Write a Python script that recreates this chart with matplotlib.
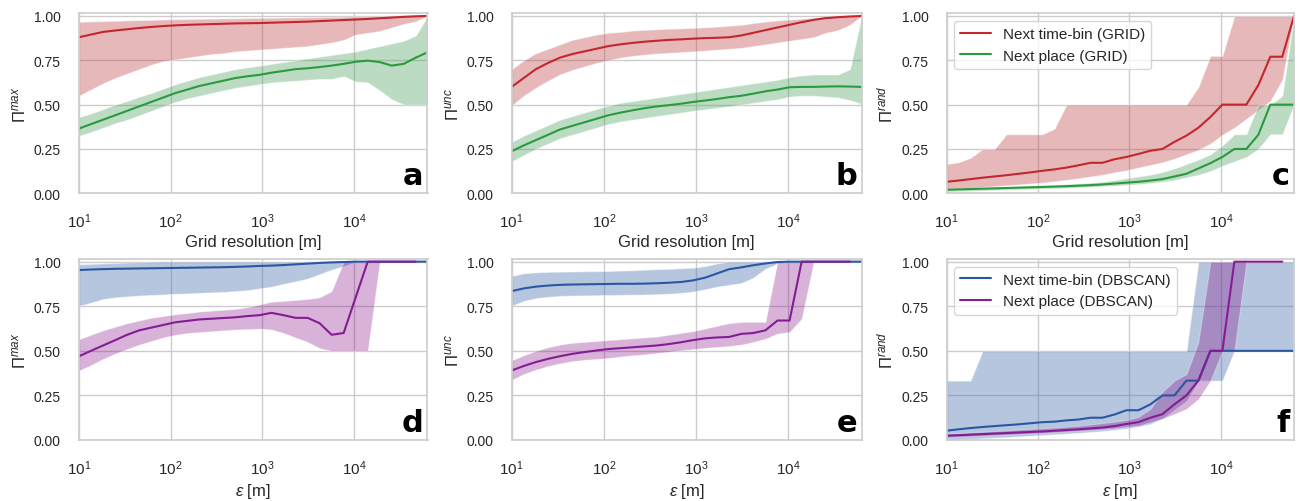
import matplotlib
matplotlib.use("Agg")
import matplotlib.pyplot as plt
import seaborn as sns

sns.set_style("whitegrid")
plt.rcParams['font.family'] = ['Liberation Sans', 'DejaVu Sans']
plt.rcParams['mathtext.fontset'] = 'custom'
plt.rcParams['mathtext.rm'] = 'Liberation Sans'
plt.rcParams['mathtext.it'] = 'Liberation Sans:italic'
plt.rcParams['mathtext.bf'] = 'Liberation Sans:bold'

# x values (grid resolution / epsilon, metres)
x_vals = [10, 13.5, 18.3, 24.8, 33.5, 45.3, 61.3, 82.9, 112, 152, 205, 278, 376,
          508, 687, 929, 1256, 1699, 2298, 3107, 4202, 5683, 7686, 10394,
          14057, 19011, 25710, 34771, 47024, 63096]

# --- GRID, next time-bin (red) ---
tb_max = [0.88, 0.895, 0.91, 0.918, 0.925, 0.932, 0.938, 0.943, 0.947, 0.95, 0.952, 0.954, 0.956, 0.958, 0.959,
          0.96, 0.962, 0.964, 0.966, 0.968, 0.971, 0.974, 0.977, 0.98, 0.983, 0.987, 0.991, 0.995, 0.998, 1.0]
tb_max_hi = [0.967, 0.969, 0.971, 0.973, 0.975, 0.977, 0.978, 0.98, 0.982, 0.983, 0.984, 0.985, 0.986, 0.987, 0.988,
             0.989, 0.99, 0.991, 0.992, 0.993, 0.994, 0.995, 0.996, 0.997, 0.998, 0.999, 1.0, 1.0, 1.0, 1.0]
tb_max_lo = [0.55, 0.585, 0.62, 0.65, 0.675, 0.70, 0.725, 0.745, 0.755, 0.765, 0.775, 0.785, 0.79, 0.80, 0.805,
             0.81, 0.815, 0.82, 0.825, 0.83, 0.84, 0.85, 0.865, 0.895, 0.905, 0.915, 0.935, 0.955, 0.97, 1.0]

tb_unc = [0.60, 0.65, 0.70, 0.735, 0.765, 0.785, 0.80, 0.815, 0.83, 0.84, 0.848, 0.855, 0.86, 0.865, 0.868,
          0.872, 0.875, 0.877, 0.88, 0.89, 0.905, 0.92, 0.935, 0.95, 0.965, 0.978, 0.988, 0.993, 0.997, 1.0]
tb_unc_hi = [0.70, 0.75, 0.79, 0.815, 0.84, 0.865, 0.88, 0.895, 0.905, 0.91, 0.918, 0.922, 0.925, 0.928, 0.93,
             0.933, 0.936, 0.94, 0.945, 0.95, 0.96, 0.968, 0.975, 0.98, 0.985, 0.99, 0.995, 1.0, 1.0, 1.0]
tb_unc_lo = [0.495, 0.55, 0.595, 0.635, 0.67, 0.695, 0.715, 0.735, 0.75, 0.765, 0.775, 0.782, 0.788, 0.792, 0.796,
             0.80, 0.805, 0.81, 0.815, 0.82, 0.83, 0.84, 0.85, 0.86, 0.87, 0.88, 0.905, 0.92, 0.95, 1.0]

tb_rand = [0.065, 0.072, 0.08, 0.088, 0.095, 0.102, 0.11, 0.118, 0.127, 0.135, 0.145, 0.158, 0.172, 0.172, 0.192,
           0.205, 0.222, 0.24, 0.25, 0.29, 0.325, 0.37, 0.43, 0.50, 0.50, 0.50, 0.61, 0.77, 0.77, 1.0]
tb_rand_hi = [0.165, 0.175, 0.20, 0.25, 0.25, 0.333, 0.333, 0.333, 0.333, 0.365, 0.5, 0.5, 0.5, 0.5, 0.5,
              0.5, 0.5, 0.5, 0.5, 0.5, 0.5, 0.6, 0.775, 0.775, 1.0, 1.0, 1.0, 1.0, 1.0, 1.0]
tb_rand_lo = [0.02, 0.025, 0.03, 0.035, 0.04, 0.045, 0.05, 0.055, 0.06, 0.068, 0.076, 0.085, 0.095, 0.105, 0.118,
              0.13, 0.145, 0.16, 0.175, 0.195, 0.22, 0.245, 0.28, 0.33, 0.37, 0.42, 0.47, 0.52, 0.64, 1.0]

# --- GRID, next place (green) ---
pl_max = [0.365, 0.39, 0.415, 0.44, 0.465, 0.49, 0.515, 0.54, 0.565, 0.585, 0.605, 0.62, 0.635, 0.65, 0.66,
          0.668, 0.68, 0.69, 0.70, 0.705, 0.712, 0.72, 0.73, 0.742, 0.748, 0.74, 0.72, 0.73, 0.765, 0.795]
pl_max_hi = [0.43, 0.45, 0.475, 0.50, 0.52, 0.545, 0.565, 0.59, 0.615, 0.635, 0.655, 0.67, 0.685, 0.70, 0.71,
             0.72, 0.73, 0.74, 0.75, 0.76, 0.77, 0.78, 0.79, 0.80, 0.815, 0.83, 0.845, 0.86, 0.89, 1.0]
pl_max_lo = [0.325, 0.345, 0.37, 0.395, 0.415, 0.44, 0.465, 0.49, 0.515, 0.535, 0.55, 0.565, 0.58, 0.595, 0.605,
             0.615, 0.625, 0.63, 0.635, 0.64, 0.645, 0.645, 0.66, 0.63, 0.625, 0.58, 0.53, 0.50, 0.50, 0.50]

pl_unc = [0.237, 0.27, 0.30, 0.33, 0.36, 0.38, 0.40, 0.42, 0.44, 0.455, 0.468, 0.48, 0.49, 0.497, 0.505,
          0.515, 0.523, 0.532, 0.542, 0.55, 0.562, 0.575, 0.585, 0.598, 0.60, 0.60, 0.602, 0.603, 0.602, 0.60]
pl_unc_hi = [0.29, 0.325, 0.355, 0.385, 0.415, 0.435, 0.455, 0.475, 0.495, 0.51, 0.52, 0.53, 0.54, 0.55, 0.56,
             0.57, 0.58, 0.59, 0.60, 0.61, 0.62, 0.63, 0.64, 0.655, 0.665, 0.67, 0.67, 0.67, 0.70, 1.0]
pl_unc_lo = [0.18, 0.215, 0.25, 0.28, 0.31, 0.33, 0.35, 0.37, 0.39, 0.405, 0.415, 0.425, 0.435, 0.445, 0.455,
             0.465, 0.473, 0.482, 0.49, 0.50, 0.51, 0.52, 0.53, 0.545, 0.55, 0.55, 0.545, 0.54, 0.525, 0.505]

pl_rand = [0.02, 0.022, 0.024, 0.026, 0.028, 0.03, 0.032, 0.034, 0.036, 0.038, 0.04, 0.043, 0.046, 0.05, 0.055,
           0.06, 0.065, 0.072, 0.08, 0.095, 0.11, 0.14, 0.17, 0.205, 0.25, 0.25, 0.33, 0.5, 0.5, 0.5]
pl_rand_hi = [0.025, 0.027, 0.029, 0.031, 0.033, 0.036, 0.039, 0.042, 0.045, 0.048, 0.052, 0.056, 0.06, 0.065, 0.075,
              0.085, 0.095, 0.105, 0.12, 0.14, 0.165, 0.19, 0.22, 0.27, 0.333, 0.333, 0.5, 0.5, 0.55, 1.0]
pl_rand_lo = [0.01, 0.012, 0.014, 0.016, 0.018, 0.02, 0.022, 0.024, 0.026, 0.028, 0.03, 0.033, 0.036, 0.04, 0.043,
              0.047, 0.052, 0.058, 0.065, 0.075, 0.09, 0.105, 0.125, 0.155, 0.18, 0.205, 0.25, 0.333, 0.333, 0.5]

# --- DBSCAN, next time-bin (blue) ---
db_tb_max = [0.953, 0.956, 0.958, 0.96, 0.961, 0.962, 0.963, 0.964, 0.965, 0.966, 0.967, 0.968, 0.969, 0.971, 0.973,
             0.976, 0.978, 0.981, 0.985, 0.989, 0.993, 0.996, 0.998, 1.0, 1.0, 1.0, 1.0, 1.0, 1.0, 1.0]
db_tb_max_hi = [0.985, 0.988, 0.99, 0.993, 0.995, 0.997, 0.999, 1.0, 1.0, 1.0, 1.0, 1.0, 1.0, 1.0, 1.0,
                1.0, 1.0, 1.0, 1.0, 1.0, 1.0, 1.0, 1.0, 1.0, 1.0, 1.0, 1.0, 1.0, 1.0, 1.0]
db_tb_max_lo = [0.752, 0.77, 0.79, 0.80, 0.805, 0.81, 0.813, 0.816, 0.82, 0.822, 0.825, 0.828, 0.83, 0.835, 0.84,
                0.85, 0.86, 0.875, 0.89, 0.905, 0.93, 0.955, 0.975, 1.0, 1.0, 1.0, 1.0, 1.0, 1.0, 1.0]

db_tb_unc = [0.835, 0.85, 0.86, 0.866, 0.87, 0.872, 0.873, 0.874, 0.875, 0.876, 0.876, 0.877, 0.879, 0.882, 0.886,
             0.895, 0.91, 0.934, 0.958, 0.968, 0.98, 0.99, 0.998, 1.0, 1.0, 1.0, 1.0, 1.0, 1.0, 1.0]
db_tb_unc_hi = [0.92, 0.935, 0.94, 0.943, 0.944, 0.945, 0.946, 0.947, 0.948, 0.95, 0.952, 0.955, 0.958, 0.96, 0.963,
                0.966, 0.975, 0.99, 1.0, 1.0, 1.0, 1.0, 1.0, 1.0, 1.0, 1.0, 1.0, 1.0, 1.0, 1.0]
db_tb_unc_lo = [0.752, 0.78, 0.795, 0.803, 0.808, 0.81, 0.811, 0.812, 0.813, 0.814, 0.815, 0.816, 0.818, 0.82, 0.825,
                0.832, 0.845, 0.86, 0.87, 0.88, 0.91, 0.96, 0.99, 1.0, 1.0, 1.0, 1.0, 1.0, 1.0, 1.0]

db_tb_rand = [0.052, 0.06, 0.067, 0.073, 0.078, 0.083, 0.088, 0.094, 0.10, 0.103, 0.11, 0.115, 0.125, 0.125, 0.143,
              0.167, 0.167, 0.20, 0.25, 0.25, 0.333, 0.333, 0.5, 0.5, 0.5, 0.5, 0.5, 0.5, 0.5, 0.5]
db_tb_rand_hi = [0.333, 0.333, 0.333, 0.5, 0.5, 0.5, 0.5, 0.5, 0.5, 0.5, 0.5, 0.5, 0.5, 0.5, 0.5,
                 0.5, 0.5, 0.5, 0.5, 0.5, 0.5, 1.0, 1.0, 1.0, 1.0, 1.0, 1.0, 1.0, 1.0, 1.0]
db_tb_rand_lo = [0.0, 0.003, 0.006, 0.01, 0.013, 0.016, 0.02, 0.024, 0.028, 0.032, 0.036, 0.04, 0.045, 0.05, 0.057,
                 0.065, 0.075, 0.09, 0.12, 0.17, 0.22, 0.333, 0.333, 0.333, 0.5, 0.5, 0.5, 0.5, 0.5, 0.5]

# --- DBSCAN, next place (purple), one point fewer ---
db_pl_max = [0.47, 0.50, 0.53, 0.56, 0.59, 0.615, 0.63, 0.645, 0.66, 0.668, 0.676, 0.68, 0.684, 0.688, 0.695,
             0.70, 0.713, 0.70, 0.685, 0.685, 0.655, 0.59, 0.60, 0.80, 1.0, 1.0, 1.0, 1.0, 1.0]
db_pl_max_hi = [0.565, 0.59, 0.615, 0.635, 0.655, 0.67, 0.685, 0.695, 0.705, 0.712, 0.72, 0.725, 0.73, 0.735, 0.745,
                0.76, 0.775, 0.78, 0.785, 0.79, 0.80, 0.835, 1.0, 1.0, 1.0, 1.0, 1.0, 1.0, 1.0]
db_pl_max_lo = [0.39, 0.42, 0.455, 0.485, 0.51, 0.535, 0.555, 0.575, 0.59, 0.60, 0.605, 0.61, 0.615, 0.62, 0.622,
                0.625, 0.62, 0.60, 0.575, 0.55, 0.515, 0.50, 0.50, 0.50, 0.50, 1.0, 1.0, 1.0, 1.0]

db_pl_unc = [0.39, 0.415, 0.437, 0.455, 0.47, 0.483, 0.493, 0.502, 0.51, 0.515, 0.52, 0.525, 0.53, 0.538, 0.548,
             0.56, 0.57, 0.575, 0.578, 0.595, 0.60, 0.615, 0.67, 0.67, 1.0, 1.0, 1.0, 1.0, 1.0]
db_pl_unc_hi = [0.447, 0.475, 0.50, 0.52, 0.535, 0.545, 0.55, 0.555, 0.56, 0.565, 0.57, 0.575, 0.58, 0.59, 0.60,
                0.61, 0.625, 0.64, 0.655, 0.662, 0.662, 0.662, 1.0, 1.0, 1.0, 1.0, 1.0, 1.0, 1.0]
db_pl_unc_lo = [0.338, 0.37, 0.395, 0.415, 0.43, 0.442, 0.45, 0.455, 0.46, 0.468, 0.475, 0.48, 0.488, 0.495, 0.503,
                0.51, 0.517, 0.522, 0.527, 0.535, 0.55, 0.568, 0.597, 0.606, 0.68, 1.0, 1.0, 1.0, 1.0]

db_pl_rand = [0.024, 0.027, 0.03, 0.033, 0.036, 0.039, 0.042, 0.045, 0.048, 0.052, 0.056, 0.06, 0.065, 0.07, 0.078,
              0.09, 0.10, 0.125, 0.145, 0.20, 0.25, 0.333, 0.5, 0.5, 1.0, 1.0, 1.0, 1.0, 1.0]
db_pl_rand_hi = [0.034, 0.038, 0.042, 0.046, 0.05, 0.054, 0.058, 0.062, 0.066, 0.07, 0.075, 0.08, 0.087, 0.095, 0.103,
                 0.112, 0.13, 0.175, 0.27, 0.333, 0.37, 0.55, 1.0, 1.0, 1.0, 1.0, 1.0, 1.0, 1.0]
db_pl_rand_lo = [0.015, 0.018, 0.021, 0.024, 0.027, 0.03, 0.033, 0.036, 0.04, 0.044, 0.048, 0.052, 0.056, 0.06, 0.066,
                 0.074, 0.08, 0.10, 0.12, 0.146, 0.175, 0.23, 0.333, 0.5, 0.5, 1.0, 1.0, 1.0, 1.0]

red_line, red_fill = "#c4262e", "#C44E52"
green_line, green_fill = "#2b9a3e", "#55A868"
blue_line, blue_fill = "#2a56a2", "#4C72B0"
purple_line, purple_fill = "#851c95", "#800080"

fig = plt.figure(figsize=(13.03, 5.02), dpi=100)
W, H = 1303, 502
boxes = [(79, 427.5, 14.3, 194.3), (511.7, 861.7, 14.3, 194.3), (946.5, 1294, 14.3, 194.3),
         (79, 427.5, 260, 441), (511.7, 861.7, 260, 441), (946.5, 1294, 260, 441)]
axes = []
for (x0, x1, y0, y1) in boxes:
    axes.append(fig.add_axes([x0 / W, 1 - y1 / H, (x1 - x0) / W, (y1 - y0) / H]))

panels = [
    (tb_max, tb_max_lo, tb_max_hi, pl_max, pl_max_lo, pl_max_hi, r"$\Pi^{max}$", "a"),
    (tb_unc, tb_unc_lo, tb_unc_hi, pl_unc, pl_unc_lo, pl_unc_hi, r"$\Pi^{unc}$", "b"),
    (tb_rand, tb_rand_lo, tb_rand_hi, pl_rand, pl_rand_lo, pl_rand_hi, r"$\Pi^{rand}$", "c"),
    (db_tb_max, db_tb_max_lo, db_tb_max_hi, db_pl_max, db_pl_max_lo, db_pl_max_hi, r"$\Pi^{max}$", "d"),
    (db_tb_unc, db_tb_unc_lo, db_tb_unc_hi, db_pl_unc, db_pl_unc_lo, db_pl_unc_hi, r"$\Pi^{unc}$", "e"),
    (db_tb_rand, db_tb_rand_lo, db_tb_rand_hi, db_pl_rand, db_pl_rand_lo, db_pl_rand_hi, r"$\Pi^{rand}$", "f"),
]

for i, (ax, p) in enumerate(zip(axes, panels)):
    tb, tb_lo, tb_hi, pl, pl_lo, pl_hi, ylab, letter = p
    top = i < 3
    c1l, c1f = (red_line, red_fill) if top else (blue_line, blue_fill)
    c2l, c2f = (green_line, green_fill) if top else (purple_line, purple_fill)
    a2 = 0.4 if top else 0.3
    xp = x_vals[:len(pl)]
    lab1 = "Next time-bin (GRID)" if top else "Next time-bin (DBSCAN)"
    lab2 = "Next place (GRID)" if top else "Next place (DBSCAN)"
    ax.fill_between(x_vals, tb_lo, tb_hi, color=c1f, alpha=0.4, edgecolor="white", linewidth=0.8)
    ax.fill_between(xp, pl_lo, pl_hi, color=c2f, alpha=a2, edgecolor="white", linewidth=0.8)
    ax.plot(x_vals, tb, color=c1l, lw=1.5, label=lab1)
    ax.plot(xp, pl, color=c2l, lw=1.5, label=lab2)
    ax.set_xscale("log")
    ax.set_xlim(10, 63096)
    ax.set_ylim(0, 1.015)
    ax.set_yticks([0, 0.25, 0.5, 0.75, 1.0])
    ax.set_yticklabels(["0.00", "0.25", "0.50", "0.75", "1.00"])
    ax.set_xticks([10, 100, 1000, 10000])
    ax.minorticks_off()
    ax.tick_params(length=0, pad=13, labelsize=10, colors="#262626")
    ax.tick_params(axis="x", labelsize=11)
    ax.grid(True, color="#cccccc", lw=1)
    for s in ax.spines.values():
        s.set_color("#cccccc")
        s.set_linewidth(1.2)
    ax.set_ylabel(ylab, fontsize=12, color="#262626", labelpad=4)
    ax.set_xlabel("Grid resolution [m]" if top else r"$\epsilon$ [m]", fontsize=12, color="#262626", labelpad=3)
    ax.text(0.988, 0.05, letter, transform=ax.transAxes, ha="right", va="baseline",
            fontsize=22, fontweight="bold", family="DejaVu Sans", color="black")
    if letter in ("c", "f"):
        ax.legend(loc="upper left", fontsize=11, frameon=True, borderaxespad=0.5)

fig.savefig("out.png", dpi=100)
